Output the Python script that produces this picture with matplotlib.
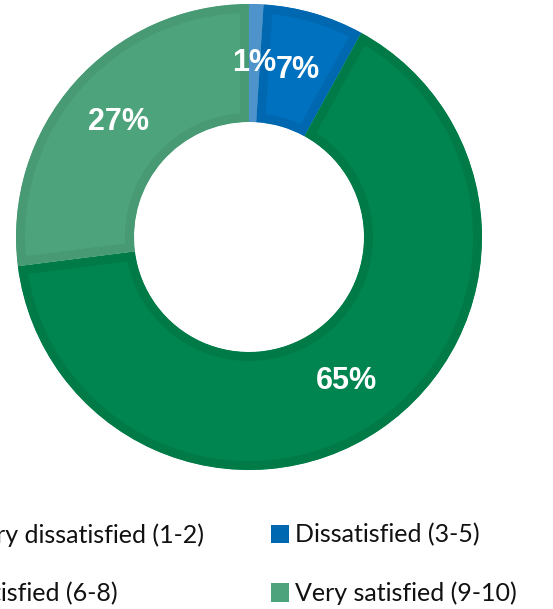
import matplotlib
matplotlib.use("Agg")
import matplotlib.pyplot as plt
import numpy as np
from matplotlib.patches import Patch

categories = ["Very dissatisfied (1-2)", "Dissatisfied (3-5)", "Satisfied (6-8)", "Very satisfied (9-10)"]
values = [1, 7, 65, 27]
labels = ["1%", "7%", "65%", "27%"]
fill_colors = ["#4E93C9", "#0071BF", "#008550", "#4DA37B"]
edge_colors = ["#4E93C9", "#0068B0", "#007B48", "#479A73"]
legend_colors = ["#4E93C9", "#0068B0", "#007C49", "#4DA37B"]

W, H = 553, 609
fig = plt.figure(figsize=(W / 100, H / 100), dpi=100)
cx, cy, R, r_in, m = 249, 237, 233, 115, 3
ax = fig.add_axes([(cx - R - m) / W, (H - cy - R - m) / H, 2 * (R + m) / W, 2 * (R + m) / H])

width = (R - r_in) / R
wedges, _ = ax.pie(values, radius=1, startangle=90, counterclock=False,
                   colors=fill_colors,
                   wedgeprops=dict(width=width, linewidth=13))
lim = (R + m) / R
ax.set_xlim(-lim, lim)
ax.set_ylim(-lim, lim)
ax.set_aspect("equal")
ax.axis("off")
for w, ec in zip(wedges, edge_colors):
    w.set_edgecolor(ec)
    w.set_clip_path(w)
    w.set_clip_on(True)

total = sum(values)
ang = 90.0
rm = 1 - width / 2
for v, lab in zip(values, labels):
    span = 360.0 * v / total
    mid = np.deg2rad(ang - span / 2)
    ang -= span
    ax.text(rm * np.cos(mid), rm * np.sin(mid), lab, ha="center", va="center",
            color="white", fontsize=22, fontweight="bold", family="Liberation Sans")

handles = [Patch(facecolor=c, edgecolor="none") for c in legend_colors]
order = [0, 2, 1, 3]
leg = fig.legend([handles[i] for i in order], [categories[i] for i in order],
                 ncol=2, loc="upper left", bbox_to_anchor=(-58 / W, 1 - 523 / H),
                 frameon=False, handlelength=0.75, handleheight=0.75, handletextpad=0.22,
                 columnspacing=2.65, labelspacing=1.4, borderaxespad=0, borderpad=0,
                 prop=dict(family="Lato", size=18))
for t in leg.get_texts():
    t.set_color("#111111")

fig.savefig("out.png", dpi=100)
